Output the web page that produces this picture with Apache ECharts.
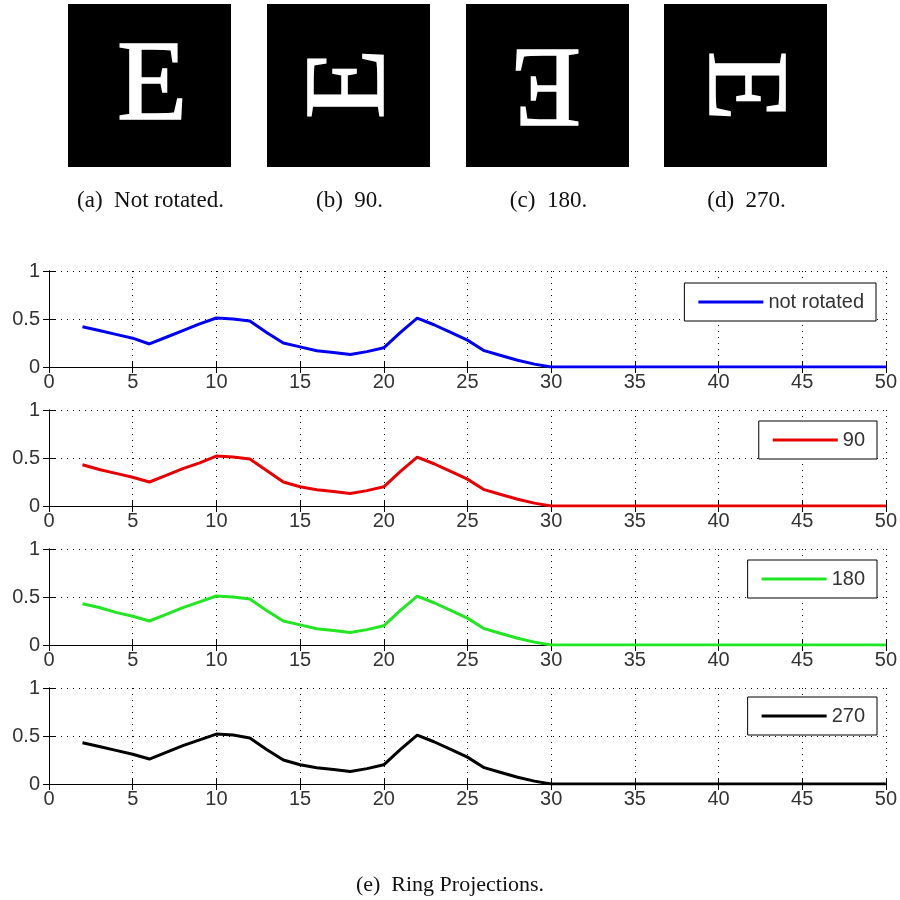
<!DOCTYPE html>
<html>
<head>
<meta charset="utf-8">
<script src="https://cdn.jsdelivr.net/npm/echarts@6/dist/echarts.min.js"></script>
<style>
html,body{margin:0;padding:0;background:#fff;}
#chart{width:900px;height:900px;}
</style>
</head>
<body>
<div id="chart"></div>
<script>
// ---- data ----
const radius = [2,3,4,5,6,7,8,9,10,11,12,13,14,15,16,17,18,19,20,21,22,23,24,25,26,27,28,29,30,31,32,33,34,35,36,37,38,39,40,41,42,43,44,45,46,47,48,49,50];
const notRotated = [0.42,0.38,0.34,0.30,0.24,0.31,0.38,0.45,0.51,0.50,0.48,0.36,0.25,0.21,0.17,0.15,0.13,0.16,0.20,0.36,0.51,0.44,0.36,0.28,0.17,0.12,0.07,0.03,0,0,0,0,0,0,0,0,0,0,0,0,0,0,0,0,0,0,0,0,0];
const rot90      = [0.43,0.38,0.34,0.30,0.25,0.32,0.39,0.45,0.52,0.51,0.49,0.37,0.25,0.20,0.17,0.15,0.13,0.16,0.20,0.36,0.51,0.44,0.36,0.28,0.17,0.12,0.07,0.03,0,0,0,0,0,0,0,0,0,0,0,0,0,0,0,0,0,0,0,0,0];
const rot180     = [0.43,0.39,0.34,0.30,0.25,0.32,0.39,0.45,0.51,0.50,0.48,0.36,0.25,0.21,0.17,0.15,0.13,0.16,0.20,0.36,0.51,0.44,0.36,0.28,0.17,0.12,0.07,0.03,0,0,0,0,0,0,0,0,0,0,0,0,0,0,0,0,0,0,0,0,0];
const rot270     = [0.43,0.39,0.35,0.31,0.26,0.33,0.40,0.46,0.52,0.51,0.48,0.36,0.25,0.20,0.17,0.15,0.13,0.16,0.20,0.36,0.51,0.44,0.36,0.28,0.17,0.12,0.07,0.03,0,0,0,0,0,0,0,0,0,0,0,0,0,0,0,0,0,0,0,0,0];
const seriesNames = ['not rotated','90','180','270'];
const seriesColors = ['#0000f0','#e80000','#22e622','#000000'];
const xTicks = [0,5,10,15,20,25,30,35,40,45,50];
const yTicks = [0,0.5,1];
const subCaptions = ['(a)  Not rotated.','(b)  90.','(c)  180.','(d)  270.'];
const rotations = [0, 90, 180, 270];
const mainCaption = '(e)  Ring Projections.';

const allSeries = [notRotated, rot90, rot180, rot270];

// ---- layout ----
const gridTops = [271, 410, 549, 688];
const gridH = 96;
const gridLeft = 49, gridRight = 14;
const axisFont = "'Liberation Sans',Arial,sans-serif";
const legendBoxes = [
  {right: 24, top: 283},
  {right: 23, top: 421},
  {right: 23, top: 560},
  {right: 23, top: 697}
];

const grids = [], xAxes = [], yAxes = [], series = [], legends = [];
for (let i = 0; i < 4; i++) {
  grids.push({left: gridLeft, right: gridRight, top: gridTops[i], height: gridH, show: false});
  const common = {
    type: 'value', min: 0, max: 50, interval: 5, gridIndex: i,
    axisLine: {show: true, lineStyle: {color: '#000', width: 1}},
    axisTick: {show: true, inside: true, length: 6, lineStyle: {color: '#000'}},
  };
  xAxes.push(Object.assign({}, common, {
    position: 'bottom',
    axisLabel: {show: true, color: '#333', fontSize: 20, fontFamily: axisFont, margin: 5,
      formatter: v => xTicks.indexOf(v) >= 0 ? String(v) : ''},
    splitLine: {show: true, lineStyle: {color: '#000', type: [1, 5], width: 1}}
  }));
  xAxes.push(Object.assign({}, common, {
    position: 'top', axisLabel: {show: false}, splitLine: {show: false}
  }));
  const ycommon = {
    type: 'value', min: 0, max: 1, interval: 0.5, gridIndex: i,
    axisLine: {show: true, lineStyle: {color: '#000', width: 1}},
    axisTick: {show: true, inside: true, length: 6, lineStyle: {color: '#000'}},
  };
  yAxes.push(Object.assign({}, ycommon, {
    position: 'left',
    axisLabel: {show: true, color: '#333', fontSize: 20, fontFamily: axisFont, margin: 9,
      formatter: v => yTicks.indexOf(v) >= 0 ? String(v) : ''},
    splitLine: {show: true, lineStyle: {color: '#000', type: [1, 5], width: 1}}
  }));
  yAxes.push(Object.assign({}, ycommon, {
    position: 'right', axisLabel: {show: false}, splitLine: {show: false}
  }));
  series.push({
    type: 'line', name: seriesNames[i],
    xAxisIndex: 2 * i, yAxisIndex: 2 * i,
    data: radius.map((r, k) => [r, allSeries[i][k]]),
    showSymbol: false, symbol: 'none',
    lineStyle: {color: seriesColors[i], width: 3},
    itemStyle: {color: seriesColors[i]},
    animation: false, z: 3
  });
  legends.push({
    data: [seriesNames[i]],
    right: legendBoxes[i].right, top: legendBoxes[i].top,
    backgroundColor: '#fff', borderColor: '#000', borderWidth: 1,
    padding: [9, 12, 9, 14],
    itemWidth: 65, itemHeight: 3, icon: 'rect',
    textStyle: {fontSize: 20, color: '#333', fontFamily: axisFont},
    selectedMode: false, z: 10
  });
}

// ---- image panels (letter E rotations) ----
const squares = [68, 267, 466, 664];
const glyphCenters = [[151, 81], [345, 85], [547, 88], [748, 85]];
const sqTop = 4, sqSize = 163;
const serif = "'Liberation Serif','Times New Roman',serif";
const graphic = [];
for (let i = 0; i < 4; i++) {
  const cx = squares[i] + sqSize / 2;
  graphic.push({type: 'rect', shape: {x: squares[i], y: sqTop, width: sqSize, height: sqSize},
    style: {fill: '#000'}, z: 1});
  graphic.push({type: 'text', x: glyphCenters[i][0], y: glyphCenters[i][1],
    rotation: rotations[i] * Math.PI / 180,
    style: {text: 'E', x: 1, y: 8, fill: '#fff', font: "115px " + serif,
      stroke: '#fff', lineWidth: 1.5,
      textAlign: 'center', textVerticalAlign: 'middle'}, z: 2});
  graphic.push({type: 'text', x: cx + 1, y: 201,
    style: {text: subCaptions[i], fill: '#111', font: "23px " + serif,
      textAlign: 'center', textVerticalAlign: 'middle'}, z: 2});
}
graphic.push({type: 'text', x: 450, y: 885,
  style: {text: mainCaption, fill: '#111', font: "22px " + serif,
    textAlign: 'center', textVerticalAlign: 'middle'}, z: 2});

const chart = echarts.init(document.getElementById('chart'), null, {renderer: 'canvas'});
chart.setOption({
  animation: false,
  backgroundColor: '#fff',
  grid: grids, xAxis: xAxes, yAxis: yAxes, series: series, legend: legends,
  graphic: graphic
});
</script>
</body>
</html>
